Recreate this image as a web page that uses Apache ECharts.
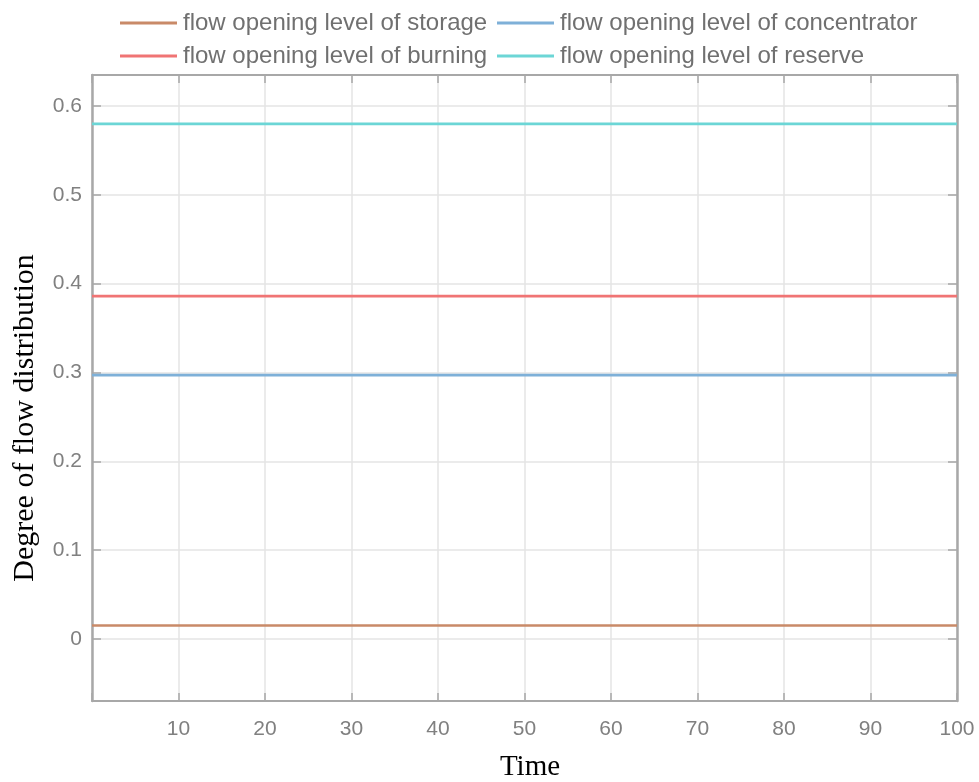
<!DOCTYPE html>
<html>
<head>
<meta charset="utf-8">
<script src="https://cdn.jsdelivr.net/npm/echarts@6/dist/echarts.min.js"></script>
<style>
  html, body { margin: 0; padding: 0; background: #fff; }
  #chart { width: 979px; height: 782px; }
</style>
</head>
<body>
<div id="chart"></div>
<script>
// Time span of the run (start, end)
const timePoints = [0, 100];

// Flow opening levels, constant over the run
const storageLevel      = [0.015, 0.015];
const concentratorLevel = [0.297, 0.297];
const burningLevel      = [0.386, 0.386];
const reserveLevel      = [0.58, 0.58];

const seriesNames = [
  'flow opening level of storage',
  'flow opening level of concentrator',
  'flow opening level of burning',
  'flow opening level of reserve'
];
const seriesColors = ['#c98a68', '#7eb0d8', '#f07474', '#6cd6d6'];

// Y axis tick values
const yTicks = [0, 0.1, 0.2, 0.3, 0.4, 0.5, 0.6];

const pairs = (xs, ys) => xs.map((x, i) => [x, ys[i]]);
const seriesData = [storageLevel, concentratorLevel, burningLevel, reserveLevel];

const tickColor = '#808080';
const gridColor = '#e4e4e4';
const frameColor = '#a8a8a8';
const sansFont = 'Liberation Sans, Arial, sans-serif';
const serifFont = 'Liberation Serif, Times New Roman, serif';

const legendPos = [
  { left: 120, top: 11 },
  { left: 497, top: 11 },
  { left: 120, top: 44 },
  { left: 497, top: 44 }
];

const chart = echarts.init(document.getElementById('chart'), null, { renderer: 'canvas' });

const frameAxisLine = w => ({ show: true, onZero: false, lineStyle: { color: frameColor, width: w } });

chart.setOption({
  backgroundColor: '#ffffff',
  animation: false,
  legend: seriesNames.map((name, i) => ({
    data: [name],
    left: legendPos[i].left,
    top: legendPos[i].top,
    padding: 0,
    icon: 'rect',
    itemWidth: 57,
    itemHeight: 3,
    itemGap: 0,
    selectedMode: false,
    textStyle: {
      fontFamily: sansFont,
      fontSize: 24,
      color: '#707070',
      padding: [0, 0, 0, 1]
    }
  })),
  grid: { left: 92, right: 22, top: 75, bottom: 81 },
  xAxis: [
    {
      type: 'value',
      min: 0,
      max: 100,
      interval: 10,
      axisLine: frameAxisLine(2),
      axisTick: { show: true, inside: true, length: 8, lineStyle: { color: frameColor, width: 1.5 } },
      axisLabel: {
        margin: 18,
        color: tickColor,
        fontFamily: sansFont,
        fontSize: 21,
        formatter: v => (v === 0 ? '' : String(v))
      },
      splitLine: { show: true, lineStyle: { color: gridColor, width: 1.5 } }
    },
    {
      type: 'value',
      position: 'top',
      min: 0,
      max: 100,
      interval: 10,
      axisLine: frameAxisLine(2),
      axisTick: { show: true, inside: true, length: 8, lineStyle: { color: frameColor, width: 1.5 } },
      axisLabel: { show: false },
      splitLine: { show: false }
    }
  ],
  yAxis: [
    {
      type: 'value',
      min: -0.07,
      max: 0.635,
      axisLine: frameAxisLine(2.5),
      axisTick: {
        show: true, inside: true, length: 9,
        customValues: yTicks,
        lineStyle: { color: frameColor, width: 1.5 }
      },
      axisLabel: {
        margin: 10,
        color: tickColor,
        fontFamily: sansFont,
        fontSize: 21,
        customValues: yTicks,
        formatter: v => (Math.abs(v) < 1e-9 ? '0' : v.toFixed(1))
      },
      splitLine: { show: true, lineStyle: { color: gridColor, width: 1.5 } }
    },
    {
      type: 'value',
      position: 'right',
      min: -0.07,
      max: 0.635,
      axisLine: frameAxisLine(2.5),
      axisTick: {
        show: true, inside: true, length: 9,
        customValues: yTicks,
        lineStyle: { color: frameColor, width: 1.5 }
      },
      axisLabel: { show: false, customValues: yTicks },
      splitLine: { show: false }
    }
  ],
  series: seriesNames.map((name, i) => ({
    name,
    type: 'line',
    xAxisIndex: 0,
    yAxisIndex: 0,
    data: pairs(timePoints, seriesData[i]),
    showSymbol: false,
    symbol: 'none',
    color: seriesColors[i],
    lineStyle: { color: seriesColors[i], width: 2.6 },
    z: 3
  })),
  graphic: [
    {
      type: 'text',
      x: 25,
      y: 418,
      rotation: Math.PI / 2,
      style: {
        text: 'Degree of flow distribution',
        fontFamily: serifFont,
        fontSize: 30,
        fill: '#000',
        align: 'center',
        verticalAlign: 'middle'
      }
    },
    {
      type: 'text',
      x: 530,
      y: 767,
      style: {
        text: 'Time',
        fontFamily: serifFont,
        fontSize: 29,
        fill: '#000',
        align: 'center',
        verticalAlign: 'middle'
      }
    }
  ]
});
</script>
</body>
</html>
